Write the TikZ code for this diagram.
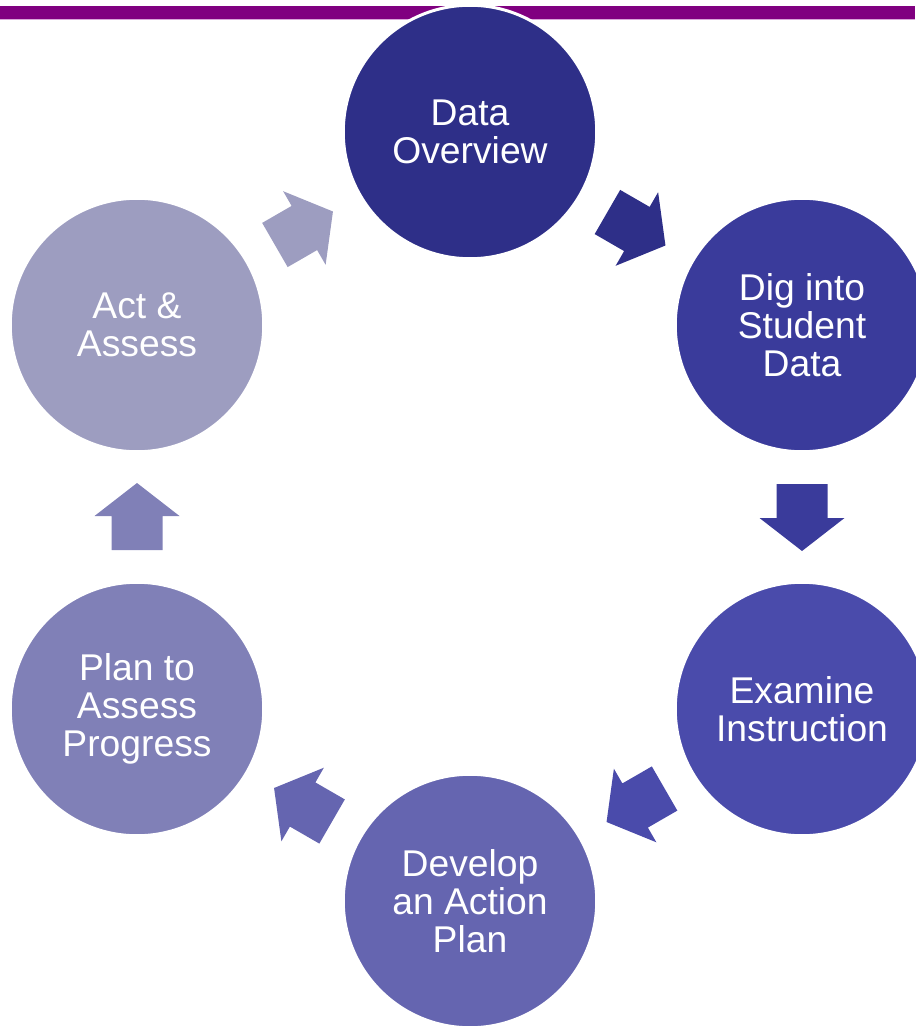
\documentclass[tikz,border=0pt]{standalone}
\usepackage{fontspec}
\setmainfont{Liberation Sans}
\usetikzlibrary{calc}
\definecolor{barpurple}{HTML}{800080}
\definecolor{barline}{HTML}{D9A6D9}
\definecolor{cone}{HTML}{2E2F88}
\definecolor{ctwo}{HTML}{3A3B9B}
\definecolor{cthree}{HTML}{4A4BAB}
\definecolor{cfour}{HTML}{6565B0}
\definecolor{cfive}{HTML}{8080B7}
\definecolor{csix}{HTML}{9D9DC0}
\tikzset{stepcirc/.style={circle, draw=white, line width=1.7pt, minimum size=5.07cm, inner sep=0pt,
  align=center, text=white, font=\fontsize{21.2}{21.5}\selectfont}}
\def\blockarrow[#1](#2)(#3){\fill[#1, shift={(#2)}, rotate=#3] (-33,-25.5) -- (1,-25.5) -- (1,-42.5) -- (34,0) -- (1,42.5) -- (1,25.5) -- (-33,25.5) -- cycle;}

\begin{document}
\begin{tikzpicture}[x=0.02cm, y=-0.02cm]
		%%%%% START %%%%%
		\useasboundingbox (0,0) rectangle (915,1026);
		
		\fill[barpurple] (0, 6) rectangle (915, 19);
		\fill[barline] (0, 19) rectangle (915, 20.3);
		
		\node[stepcirc, fill=cone] (data) at (470, 132) {Data\\Overview};
		\node[stepcirc, fill=ctwo] (dig) at (802, 325) {Dig into\\Student\\Data};
		\node[stepcirc, fill=cthree] (exam) at (802, 709) {Examine\\Instruction};
		\node[stepcirc, fill=cfour] (plan) at (470, 901) {Develop\\an Action\\Plan};
		\node[stepcirc, fill=cfive] (prog) at (137, 709) {Plan to\\Assess\\Progress};
		\node[stepcirc, fill=csix] (act) at (137, 325) {Act \&\\Assess};
		
		% arrows half way between the circles
		\coordinate (m1) at ($(data)!0.5!(dig)$);
		\coordinate (m2) at ($(dig)!0.5!(exam)$);
		\coordinate (m3) at ($(exam)!0.5!(plan)$);
		\coordinate (m4) at ($(plan)!0.5!(prog)$);
		\coordinate (m5) at ($(prog)!0.5!(act)$);
		\coordinate (m6) at ($(act)!0.5!(data)$);
		
		\blockarrow[cone](m1)(-30)
		\blockarrow[ctwo](m2)(-90)
		\blockarrow[cthree](m3)(210)
		\blockarrow[cfour](m4)(150)
		\blockarrow[cfive](m5)(90)
		\blockarrow[csix](m6)(30)
		
		%%%%% END %%%%%
	\end{tikzpicture}
\end{document}
